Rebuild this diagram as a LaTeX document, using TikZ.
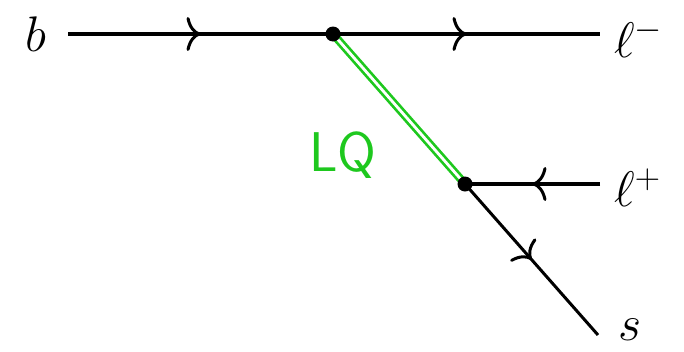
\RequirePackage{fix-cm}
\documentclass[tikz,border=0pt]{standalone}
\usepackage{fontspec}
\usetikzlibrary{arrows.meta,decorations.markings}
\definecolor{lqgreen}{RGB}{30,200,30}
\tikzset{
  fermion/.style={draw=black, line width=#1,
    postaction={decorate, decoration={markings,
      mark=at position 0.5 with {\arrow{Computer Modern Rightarrow[length=14pt,width=34pt,line width=3pt]}}}}},
  fermion/.default=4.2pt,
  lq/.style={draw=lqgreen, line width=2.7pt, double=white, double distance=2.8pt},
  vtx/.style={circle, fill=black, inner sep=0pt, minimum size=15pt},
  lbl/.style={inner sep=0pt, font=\fontsize{50}{60}\selectfont},
}
\begin{document}
\begin{tikzpicture}[x=1pt,y=-1pt]
\useasboundingbox (0,0) rectangle (684,351);
\coordinate (bs) at (68,34);
\coordinate (v1) at (333,34);
\coordinate (lme) at (600,34);
\coordinate (v2) at (465,184);
\coordinate (lpe) at (600,184);
\coordinate (se) at (598,335);
\node[lbl] (b) at (36,34) {$b$};
\node[lbl, anchor=west] (lm) at (614,38) {$\ell^-$};
\node[lbl, anchor=west] (lp) at (614,188) {$\ell^+$};
\node[lbl, anchor=west] (s) at (618,330) {$s$};
\node[font=\sffamily\fontsize{56}{60}\selectfont, text=lqgreen, inner sep=0pt] (lqt) at (343,155) {LQ};
\draw[lq] (v1) -- (v2);
\path[fermion] (bs) -- (v1);
\path[fermion] (v1) -- (lme);
\path[fermion] (lpe) -- (v2);
\path[fermion=3pt] (v2) -- (se);
\node[vtx] (n1) at (v1) {};
\node[vtx] (n2) at (v2) {};
\end{tikzpicture}
\end{document}
